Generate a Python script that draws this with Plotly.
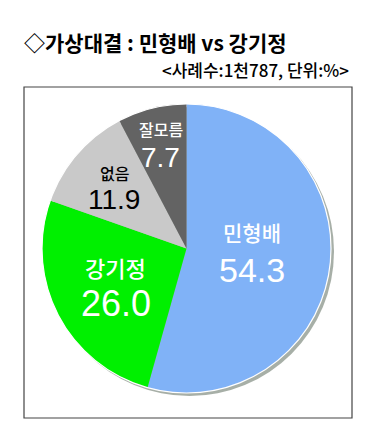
import math
import plotly.graph_objects as go

# ---- data ----
labels = ["민형배", "강기정", "없음", "잘모름"]
values = [54.3, 26.0, 11.9, 7.7]
value_text = ["54.3", "26.0", "11.9", "7.7"]
colors = ["#80b2f7", "#00f000", "#c9c9c9", "#636363"]
text_colors = ["white", "white", "black", "white"]

title = "◇가상대결 : 민형배 vs 강기정"
subtitle = "&lt;사례수:1천787, 단위:%&gt;"

# ---- layout params (pixels) ----
W, H = 377, 443
cx, cy, R = 186.5, 248.5, 144.5
r_frac = [0.455, 0.55, 0.66, 0.75]
extra_dy = [-6, 0, 0, 0]
label_size = [21, 22, 16, 16]
num_size = [34, 36, 28, 28]
half_gap = [19, 18, 13, 14]
num_font = "Liberation Sans, Arial, sans-serif"


def px(x):
    return x / W


def py(y):
    return 1 - y / H


fig = go.Figure()

# shadow
sh = 3
fig.add_trace(go.Pie(
    values=[1], marker=dict(colors=["rgba(95,110,95,0.55)"], line=dict(width=0)),
    textinfo="none", hoverinfo="skip", showlegend=False, sort=False,
    domain=dict(x=[px(cx - R + sh), px(cx + R + sh)], y=[py(cy + R + sh), py(cy - R + sh)]),
))

fig.add_trace(go.Pie(
    labels=labels, values=values, sort=False, direction="clockwise", rotation=0,
    marker=dict(colors=colors, line=dict(width=0)),
    textinfo="none", showlegend=False,
    domain=dict(x=[px(cx - R), px(cx + R)], y=[py(cy + R), py(cy - R)]),
))

annotations = []
total = sum(values)
cum = 0
for i, v in enumerate(values):
    mid = (cum + v / 2) / total * 2 * math.pi
    cum += v
    r = r_frac[i] * R
    bx = cx + math.sin(mid) * r
    by = cy - math.cos(mid) * r + extra_dy[i]
    annotations.append(dict(
        x=px(bx), y=py(by), xref="paper", yref="paper", showarrow=False,
        text=labels[i], yshift=half_gap[i], xanchor="center", yanchor="middle",
        font=dict(family="Noto Sans CJK KR", size=label_size[i], color=text_colors[i], weight=500),
    ))
    annotations.append(dict(
        x=px(bx), y=py(by), xref="paper", yref="paper", showarrow=False,
        text=value_text[i], yshift=-half_gap[i], xanchor="center", yanchor="middle",
        font=dict(family=num_font, size=num_size[i], color=text_colors[i]),
    ))

annotations.append(dict(
    x=px(22), y=py(42), xref="paper", yref="paper", showarrow=False,
    text=title, xanchor="left", yanchor="middle",
    font=dict(family="Noto Sans CJK KR", size=21, color="black", weight="bold"),
))
annotations.append(dict(
    x=px(351), y=py(69), xref="paper", yref="paper", showarrow=False,
    text=subtitle, xanchor="right", yanchor="middle",
    font=dict(family="Noto Sans CJK KR", size=17, color="black", weight=500),
))

shapes = [
    dict(type="rect", xref="paper", yref="paper", x0=px(24), x1=px(352), y0=py(418), y1=py(87),
         line=dict(color="#444444", width=1.2), fillcolor="white", layer="below"),
    dict(type="circle", xref="paper", yref="paper", x0=px(cx - R), x1=px(cx + R),
         y0=py(cy + R), y1=py(cy - R), line=dict(color="white", width=1.2), layer="above"),
]

fig.update_layout(
    width=W, height=H, margin=dict(l=0, r=0, t=0, b=0),
    paper_bgcolor="white", plot_bgcolor="white",
    annotations=annotations, shapes=shapes,
)

fig.write_html("out.html")
